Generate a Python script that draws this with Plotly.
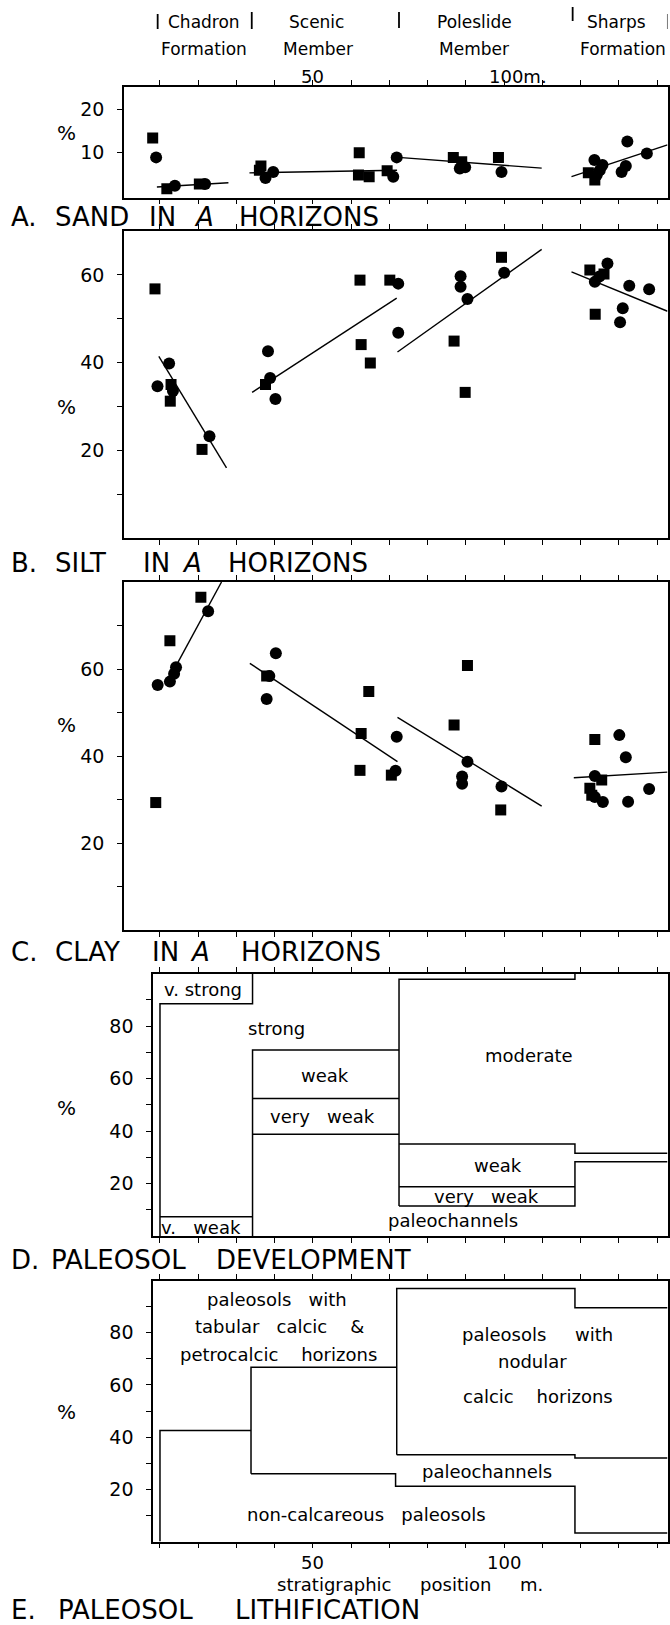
import plotly.graph_objects as go

FONT = "DejaVu Sans"
W, H = 670, 1625

# ---------------- data ----------------
x_ticks = [10, 20, 30, 40, 50, 60, 70, 80, 90, 100, 110, 120, 130, 140]

# A. sand
A_sq_x = [8.1, 11.8, 20.3, 36.4, 36.0, 62.1, 61.9, 64.7, 69.4, 86.7, 88.9, 98.5, 122.0, 123.7]
A_sq_y = [13.4, 1.6, 2.7, 6.9, 5.9, 10.0, 4.8, 4.4, 5.8, 8.9, 7.9, 8.9, 5.3, 3.6]
A_ci_x = [9.0, 13.9, 21.8, 37.6, 39.6, 71.0, 71.9, 88.4, 89.8, 99.3, 123.6, 125.7, 124.2, 125.0, 132.2, 130.7, 131.8, 137.3]
A_ci_y = [8.9, 2.3, 2.7, 4.1, 5.5, 4.4, 8.9, 6.3, 6.6, 5.5, 8.3, 7.1, 4.8, 5.9, 12.6, 5.5, 6.9, 9.8]
A_fit_x = [[9.2, 27.9], [33.4, 72.0], [72.3, 109.8], [117.6, 142.7]]
A_fit_y = [[2.0, 3.0], [5.3, 5.9], [8.9, 6.4], [4.4, 11.8]]

# B. silt
B_sq_x = [8.7, 12.9, 12.7, 21.0, 37.6, 62.3, 62.6, 65.0, 70.1, 86.9, 89.8, 99.3, 122.4, 126.1, 123.8]
B_sq_y = [56.8, 35.0, 31.2, 20.2, 35.0, 58.8, 44.1, 39.9, 58.8, 44.9, 33.2, 64.0, 61.1, 60.2, 51.0]
B_ci_x = [9.35, 12.4, 13.4, 22.95, 38.25, 38.8, 40.2, 72.3, 72.3, 88.6, 88.6, 90.4, 100.0, 123.7, 127.0, 124.9, 132.7, 137.9, 131.0, 130.3]
B_ci_y = [34.6, 39.8, 33.5, 23.2, 42.6, 36.5, 31.7, 58.0, 46.8, 59.7, 57.3, 54.5, 60.5, 58.4, 62.6, 59.6, 57.5, 56.7, 52.4, 49.2]
B_fit_x = [[9.7, 27.4], [34.1, 71.9], [72.1, 109.8], [117.6, 142.7]]
B_fit_y = [[41.4, 16.0], [33.2, 54.7], [42.4, 65.8], [60.7, 51.7]]

# C. clay
C_sq_x = [8.9, 12.6, 20.7, 37.9, 62.6, 64.6, 62.3, 70.5, 86.9, 90.4, 99.1, 123.7, 125.5, 122.4, 122.9]
C_sq_y = [29.3, 66.5, 76.5, 58.4, 45.2, 54.8, 36.7, 35.6, 47.1, 60.8, 27.6, 43.8, 34.5, 32.6, 31.0]
C_ci_x = [9.4, 12.6, 13.7, 14.2, 22.6, 38.6, 40.3, 37.9, 71.9, 71.6, 90.4, 89.0, 89.0, 99.3, 130.1, 131.8, 123.7, 123.7, 125.8, 132.4, 137.9]
C_ci_y = [56.3, 57.1, 58.9, 60.4, 73.3, 58.4, 63.6, 53.1, 44.4, 36.6, 38.7, 35.3, 33.6, 33.0, 44.8, 39.7, 35.4, 30.6, 29.4, 29.5, 32.4]
C_fit_x = [[14.2, 26.1], [33.5, 72.1], [72.1, 109.8], [118.2, 142.7]]
C_fit_y = [[60.7, 80.0], [61.3, 38.7], [48.9, 28.5], [35.0, 36.3]]

# D. paleosol development (category boundaries, %)
D_bound_x = [[10, 10, 34.2, 34.2], [10, 34.2], [34.2, 34.2, 72.5], [34.2, 72.5], [34.2, 72.5],
             [72.5, 72.5, 118.5, 118.5], [72.5, 118.5, 118.5, 142.7], [72.5, 118.5],
             [72.5, 118.5, 118.5, 142.7]]
D_bound_y = [[0, 88.5, 88.5, 100], [7.3, 7.3], [0, 70.9, 70.9], [52.4, 52.4], [38.8, 38.8],
             [11.4, 97.8, 97.8, 100], [35.0, 35.0, 31.5, 31.5], [18.8, 18.8],
             [11.4, 11.4, 28.3, 28.3]]
D_labels = ["v. strong", "strong", "weak", "very\u00a0\u00a0\u00a0weak", "moderate", "weak",
            "very\u00a0\u00a0\u00a0weak", "paleochannels", "v.\u00a0\u00a0\u00a0weak"]
D_label_x = [21.2, 40.4, 53.2, 52.4, 106.5, 98.4, 95.4, 86.5, 20.6]
D_label_y = [94, 79, 61, 45.5, 68.7, 27, 15.2, 6, 3.3]

# E. paleosol lithification
E_bound_x = [[10, 10, 33.8], [33.8, 33.8, 71.9], [33.8, 71.6, 71.6, 118.5, 118.5, 142.7],
             [71.9, 71.9, 118.5, 118.5, 142.7], [71.9, 118.5, 118.5, 142.7]]
E_bound_y = [[0, 42.5, 42.5], [26.0, 66.8, 66.8], [26.0, 26.0, 21.2, 21.2, 3.3, 3.3],
             [33.2, 96.9, 96.9, 89.6, 89.6], [33.2, 33.2, 32.0, 32.0]]
E_labels = ["paleosols\u00a0\u00a0\u00a0with", "tabular\u00a0\u00a0\u00a0calcic\u00a0\u00a0\u00a0\u00a0&",
            "petrocalcic\u00a0\u00a0\u00a0\u00a0horizons", "paleosols\u00a0\u00a0\u00a0\u00a0\u00a0with", "nodular",
            "calcic\u00a0\u00a0\u00a0\u00a0horizons", "paleochannels",
            "non-calcareous\u00a0\u00a0\u00a0paleosols"]
E_label_x = [40.7, 41.3, 41.0, 108.8, 107.3, 108.8, 95.4, 64.1]
E_label_y = [92.6, 82.5, 71.8, 79.4, 68.8, 55.5, 26.9, 10.2]

# header
unit_names_1 = ["Chadron", "Scenic", "Poleslide", "Sharps"]
unit_names_2 = ["Formation", "Member", "Member", "Formation"]
unit_name_x1 = [21.5, 51.0, 92.2, 129.4]
unit_name_x2 = [21.4, 51.3, 92.2, 131.0]
unit_bounds = [9.4, 34.0, 72.5, 117.9, 142.8]

# ---------------- layout helpers ----------------
def py(px):
    return 1 - px / H

fig = go.Figure()

panels = [
    # (suffix, ydomain px (bottom, top), yrange, ytickvals, yticktext, xdom px, xrange)
    ("", (197.5, 87), [-0.45, 25.3], [10, 20], ["10", "20"], (124, 667.5), [0.6, 142.7]),
    ("2", (538, 231), [0, 70], [10, 20, 30, 40, 50, 60], ["", "20", "", "40", "", "60"], (124, 667.5), [0.6, 142.7]),
    ("3", (930, 582), [0, 80], [10, 20, 30, 40, 50, 60, 70], ["", "20", "", "40", "", "60", ""], (124, 667.5), [0.6, 142.7]),
    ("4", (1236, 973.5), [0, 100], [10, 20, 30, 40, 50, 60, 70, 80, 90], ["", "20", "", "40", "", "60", "", "80", ""], (153.1, 667.5), [8.2, 142.7]),
    ("5", (1541.5, 1280.5), [0, 100], [10, 20, 30, 40, 50, 60, 70, 80, 90], ["", "20", "", "40", "", "60", "", "80", ""], (153.1, 667.5), [8.2, 142.7]),
]

layout = dict(width=W, height=H, margin=dict(l=0, r=0, t=0, b=0),
              paper_bgcolor="white", plot_bgcolor="white", showlegend=False,
              font=dict(family=FONT, color="black", size=18))

for suf, ydom, yr, ytv, ytt, xdom, xr in panels:
    layout["xaxis" + suf] = dict(domain=[xdom[0] / W, xdom[1] / W], range=xr, anchor="y" + suf,
                                 tickvals=x_ticks, showticklabels=False, ticks="outside",
                                 ticklen=5, tickwidth=1.3, tickcolor="black",
                                 showline=True, linecolor="black", linewidth=1.6,
                                 mirror="allticks", showgrid=False, zeroline=False, fixedrange=True)
    layout["yaxis" + suf] = dict(domain=[py(ydom[0]), py(ydom[1])], range=yr, anchor="x" + suf,
                                 tickvals=ytv, ticktext=ytt, ticks="outside", ticklen=5,
                                 tickwidth=1.3, tickcolor="black", showline=True,
                                 linecolor="black", linewidth=1.6, mirror=True,
                                 showgrid=False, zeroline=False,
                                 tickfont=dict(family=FONT, size=19, color="black"),
                                 ticklabelstandoff=9, fixedrange=True)
fig.update_layout(**layout)

def add_scatter(sq_x, sq_y, ci_x, ci_y, fx, fy, suf):
    xa, ya = "x" + suf, "y" + suf
    for lx, ly in zip(fx, fy):
        fig.add_trace(go.Scatter(x=lx, y=ly, mode="lines", line=dict(color="black", width=1.4),
                                 xaxis=xa, yaxis=ya, hoverinfo="skip"))
    fig.add_trace(go.Scatter(x=sq_x, y=sq_y, mode="markers", xaxis=xa, yaxis=ya,
                             marker=dict(symbol="square", size=11, color="black")))
    fig.add_trace(go.Scatter(x=ci_x, y=ci_y, mode="markers", xaxis=xa, yaxis=ya,
                             marker=dict(symbol="circle", size=12, color="black")))

add_scatter(A_sq_x, A_sq_y, A_ci_x, A_ci_y, A_fit_x, A_fit_y, "")
add_scatter(B_sq_x, B_sq_y, B_ci_x, B_ci_y, B_fit_x, B_fit_y, "2")
add_scatter(C_sq_x, C_sq_y, C_ci_x, C_ci_y, C_fit_x, C_fit_y, "3")

for bx, by in zip(D_bound_x, D_bound_y):
    fig.add_trace(go.Scatter(x=bx, y=by, mode="lines", line=dict(color="black", width=1.5),
                             xaxis="x4", yaxis="y4", hoverinfo="skip"))
for bx, by in zip(E_bound_x, E_bound_y):
    fig.add_trace(go.Scatter(x=bx, y=by, mode="lines", line=dict(color="black", width=1.5),
                             xaxis="x5", yaxis="y5", hoverinfo="skip"))

ann = []
def txt(text, x, y, xref="paper", yref="paper", size=18, xanchor="center"):
    ann.append(dict(text=text, x=x, y=y, xref=xref, yref=yref, showarrow=False,
                    xanchor=xanchor, yanchor="middle",
                    font=dict(family=FONT, size=size, color="black")))

for t, x, y in zip(D_labels, D_label_x, D_label_y):
    txt(t, x, y, "x4", "y4")
for t, x, y in zip(E_labels, E_label_x, E_label_y):
    txt(t, x, y, "x5", "y5")

# header
for t, x in zip(unit_names_1, unit_name_x1):
    txt(t, x, py(22), "x", size=17)
for t, x in zip(unit_names_2, unit_name_x2):
    txt(t, x, py(49), "x", size=17)
txt("50", 50, py(76), "x")
txt("100m.", 95.5, py(76), "x", xanchor="left")

bar_y = [(14, 29), (12, 29), (12, 28), (7, 21), (14, 29)]
shapes = []
for bx, (y0, y1) in zip(unit_bounds, bar_y):
    shapes.append(dict(type="line", xref="x", yref="paper", x0=bx, x1=bx, y0=py(y0), y1=py(y1),
                       line=dict(color="black", width=1.8)))

# bottom axis labels
txt("50", 50, py(1562), "x5")
txt("100", 100, py(1562), "x5")
txt("stratigraphic\u00a0\u00a0\u00a0\u00a0\u00a0position\u00a0\u00a0\u00a0\u00a0\u00a0m.", 75.3, py(1584), "x5")

# % labels
for yy in [133, 407, 725, 1108, 1412]:
    txt("%", 66 / W, py(yy), size=20)

# panel titles (word by word, left edges in px)
titles = [
    (217, [("A.", 8.5), ("SAND", 53), ("IN", 147), ("<i>A</i>", 192), ("HORIZONS", 237)]),
    (563, [("B.", 8.5), ("SILT", 53), ("IN", 141), ("<i>A</i>", 180), ("HORIZONS", 226)]),
    (952, [("C.", 8.5), ("CLAY", 53), ("IN", 150), ("<i>A</i>", 188), ("HORIZONS", 239)]),
    (1260, [("D.", 8.5), ("PALEOSOL", 49), ("DEVELOPMENT", 214)]),
    (1610, [("E.", 8.5), ("PALEOSOL", 56), ("LITHIFICATION", 233)]),
]
for yy, words in titles:
    for w, xx in words:
        txt(w, xx / W, py(yy), size=26, xanchor="left")

fig.update_layout(annotations=ann, shapes=shapes)
fig.write_html("out.html")
